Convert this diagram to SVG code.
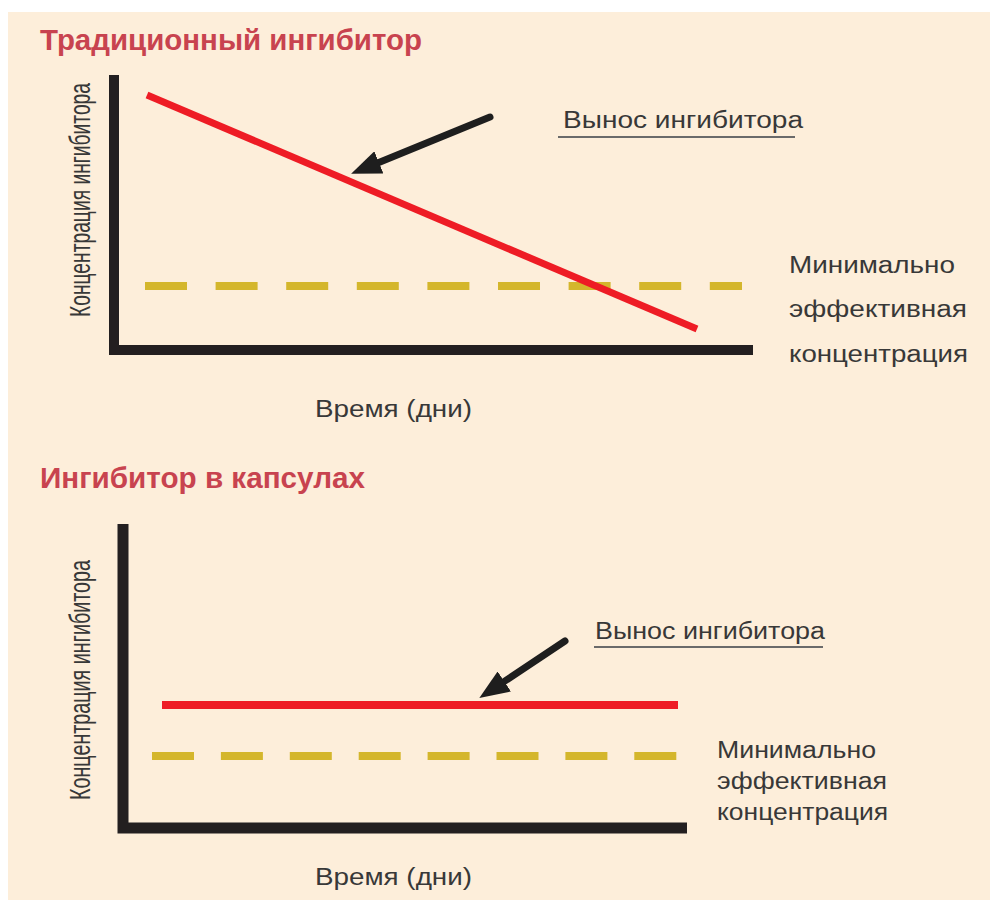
<svg xmlns="http://www.w3.org/2000/svg" width="990" height="900" viewBox="0 0 990 900">
<defs>
<style>
.bg{fill:#FDEEDA}
.title{font-family:"Liberation Sans",Arial,sans-serif;font-weight:bold;font-size:29px;fill:#C8434F}
.lbl{font-family:"Liberation Sans",Arial,sans-serif;font-size:23px;fill:#383838}
.ylbl{font-family:"Liberation Sans",Arial,sans-serif;font-size:30px;fill:#383838}
.axis{fill:none;stroke:#231F20;stroke-width:10;stroke-linejoin:miter}
.red{fill:none;stroke:#EE1C25;stroke-width:7}
.dash{fill:none;stroke:#D4B62C;stroke-width:8;stroke-dasharray:42 28.6}
.arrow{fill:none;stroke:#1E1E1E;stroke-width:7;stroke-linecap:round;marker-end:url(#ah)}
.ul{stroke:#6a6a6a;stroke-width:2}
</style>
<marker id="ah" viewBox="0 0 30 24" refX="8" refY="12" markerWidth="30" markerHeight="24" markerUnits="userSpaceOnUse" orient="auto">
<path d="M0,0 L30,12 L0,24 z" fill="#1E1E1E"/>
</marker>
</defs>
<rect class="bg" x="8" y="12" width="982" height="888"/>

<g id="chart-top">
<text class="title" x="40" y="50" textLength="382" lengthAdjust="spacingAndGlyphs">Традиционный ингибитор</text>
<text class="ylbl" transform="translate(90,317) rotate(-90)" x="0" y="0" textLength="234" lengthAdjust="spacingAndGlyphs">Концентрация ингибитора</text>
<text class="lbl" x="315" y="417" textLength="157" lengthAdjust="spacingAndGlyphs">Время (дни)</text>
</g>
<g id="top-axes"><path class="axis" d="M114,75 V350 H753"/></g>
<g id="top-min-line"><path class="dash" d="M145,286 H742"/></g>
<g id="top-series"><path class="red" d="M147,95 L697,329"/></g>
<g id="top-label-vynos">
<text class="lbl" x="563" y="128" textLength="240" lengthAdjust="spacingAndGlyphs">Вынос ингибитора</text>
<line class="ul" x1="558" y1="137" x2="795" y2="137"/>
</g>
<g id="top-label-min">
<text class="lbl" x="789" y="273" textLength="166" lengthAdjust="spacingAndGlyphs">Минимально</text>
<text class="lbl" x="789" y="317" textLength="178" lengthAdjust="spacingAndGlyphs">эффективная</text>
<text class="lbl" x="789" y="362" textLength="179" lengthAdjust="spacingAndGlyphs">концентрация</text>
</g>

<g id="chart-bottom">
<text class="title" x="40" y="488" textLength="325" lengthAdjust="spacingAndGlyphs">Ингибитор в капсулах</text>
<text class="ylbl" transform="translate(90,800) rotate(-90)" x="0" y="0" textLength="240" lengthAdjust="spacingAndGlyphs">Концентрация ингибитора</text>
<text class="lbl" x="315" y="885" textLength="157" lengthAdjust="spacingAndGlyphs">Время (дни)</text>
</g>
<g id="bottom-axes"><path class="axis" d="M123,524 V828 H687" style="stroke-width:11"/></g>
<g id="bottom-min-line"><path class="dash" d="M152,756 H677" style="stroke-dasharray:42 26.9"/></g>
<g id="bottom-series"><path class="red" d="M162,705 H678" style="stroke-width:8"/></g>
<g id="bottom-label-vynos">
<text class="lbl" x="595" y="639" textLength="230" lengthAdjust="spacingAndGlyphs">Вынос ингибитора</text>
<line class="ul" x1="594" y1="647" x2="823" y2="647"/>
</g>
<g id="bottom-label-min">
<text class="lbl" x="717" y="758" textLength="159" lengthAdjust="spacingAndGlyphs">Минимально</text>
<text class="lbl" x="717" y="789" textLength="170" lengthAdjust="spacingAndGlyphs">эффективная</text>
<text class="lbl" x="717" y="820" textLength="171" lengthAdjust="spacingAndGlyphs">концентрация</text>
</g>

<g id="connectors">
<path class="arrow" d="M490,117 L371.5,165.4"/>
<path class="arrow" d="M565,641 L497.6,685.9"/>
</g>
</svg>
